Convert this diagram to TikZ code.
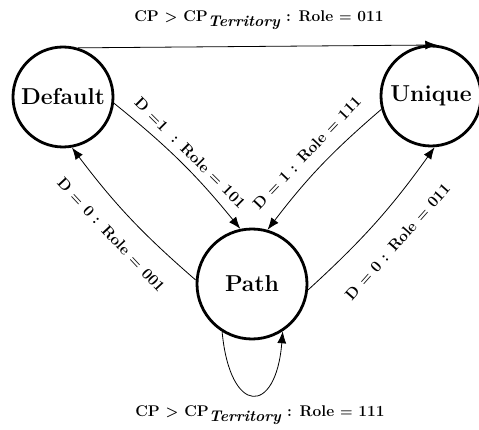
\documentclass[tikz,border=0pt]{standalone}
\usetikzlibrary{arrows.meta}
\begin{document}
\begin{tikzpicture}[x=1pt,y=1pt,
  state/.style={circle,draw,line width=2.8pt,inner sep=0pt,font=\fontsize{23}{26}\selectfont\bfseries},
  trans/.style={line width=0.8pt,-{Latex[length=12pt,width=9pt]}},
  lbl/.style={font=\fontsize{15.5}{17}\selectfont\bfseries\boldmath}]
\useasboundingbox (0,0) rectangle (479,429);
\node[state,minimum size=100pt] (D) at (63,332) {Default};
\node[state,minimum size=100pt] (U) at (431,333) {Unique};
\node[state,minimum size=110pt] (P) at (252,145) {Path};
\coordinate (toplbl) at (259,409);
\coordinate (botlbl) at (260,14);
\draw[trans] (D.73) -- (U.83);
\node[lbl] (tl) at (toplbl) {CP $>$ CP$_{\textit{Territory}}$ : Role $=$ 011};
\draw[trans] (D.-7) to[bend left=6] node[lbl,sloped,midway,above=4pt] (l1) {D $=$1\ \ : Role $=$ 101} (P.102);
\draw[trans] (P.176) to[bend left=6] node[lbl,sloped,midway,below=16pt] (l2) {D $=$ 0 : Role $=$ 001} (D.-80);
\draw[trans] (U.195) to[bend right=6] node[lbl,sloped,midway,above=10pt] (l3) {D $=$ 1 : Role $=$ 111} (P.74);
\draw[trans] (P.-6.5) to[bend right=6] node[lbl,sloped,midway,below=20pt] (l4) {D $=$ 0 : Role $=$ 011} (U.-86);
\draw[trans] (P.238) .. controls (230,13) and (276,13) .. (P.303);
\node[lbl] (bl) at (botlbl) {CP $>$ CP$_{\textit{Territory}}$ : Role $=$ 111};
\end{tikzpicture}
\end{document}
